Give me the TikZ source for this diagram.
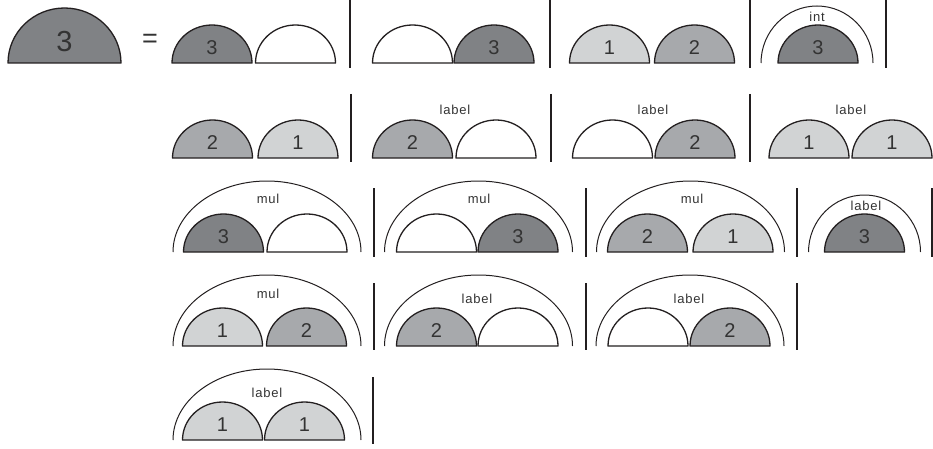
\documentclass[tikz,border=0pt]{standalone}
\usepackage{fontspec}
\setmainfont{Liberation Sans}
\newfontfamily\labfont[LetterSpace=6]{Liberation Sans}
\definecolor{cthree}{HTML}{808285}
\definecolor{ctwo}{HTML}{A7A9AC}
\definecolor{cone}{HTML}{D1D3D4}
\definecolor{ink}{HTML}{231F20}
\definecolor{txt}{HTML}{333333}
\tikzset{
  semiline/.style={draw=ink,line width=1.3pt,line join=round},
  outline/.style={draw=ink,line width=1pt},
  sepline/.style={draw=ink,line width=1.4pt},
  num/.style={inner sep=0pt,text=txt,font=\fontsize{20}{20}\selectfont},
  lab/.style={inner sep=0pt,text=txt,font=\labfont\fontsize{13}{13}\selectfont},
  pics/semi/.style 2 args={code={
    \draw[semiline,fill=#1] (-40pt,0pt) arc[start angle=180,end angle=0,x radius=40pt,y radius=38pt] -- cycle;
    \node[num] (-t) at (0pt,15pt) {#2};
  }},
  pics/outerbig/.style={code={
    \draw[outline] (-94pt,0pt) arc[start angle=180,end angle=0,x radius=94pt,y radius=71pt];
  }},
  pics/outersmall/.style={code={
    \draw[outline] (-56pt,0pt) arc[start angle=180,end angle=0,x radius=56pt,y radius=57pt];
  }},
}
\begin{document}
\begin{tikzpicture}[x=1pt,y=1pt]
\useasboundingbox (0,0) rectangle (933,448);
% ---------- row 1 ----------
\draw[semiline,fill=cthree] (8,385) arc[start angle=180,end angle=0,x radius=56.5pt,y radius=55pt] -- cycle;
\node[num,font=\fontsize{29}{29}\selectfont] (big) at (64.5,406) {3};
\node[num,font=\fontsize{27}{27}\selectfont] (eq) at (150,407) {=};
\pic (r1a) at (212,385) {semi={cthree}{3}};
\pic (r1b) at (295.5,385) {semi={white}{}};
\draw[sepline] (350,448) -- (350,380);
\pic (r1c) at (412.5,385) {semi={white}{}};
\pic (r1d) at (494,385) {semi={cthree}{3}};
\draw[sepline] (550,448) -- (550,380);
\pic (r1e) at (609.5,385) {semi={cone}{1}};
\pic (r1f) at (694.5,385) {semi={ctwo}{2}};
\draw[sepline] (750,448) -- (750,380);
\pic (r1g) at (817,385) {outersmall};
\node[lab] (r1gl) at (817,431) {int};
\pic (r1h) at (818,385) {semi={cthree}{3}};
\draw[sepline] (886,448) -- (886,380);
% ---------- row 2 ----------
\pic (r2a) at (212.5,290) {semi={ctwo}{2}};
\pic (r2b) at (298,290) {semi={cone}{1}};
\draw[sepline] (351,354) -- (351,286);
\node[lab] (r2cl) at (455,338) {label};
\pic (r2c) at (412.5,290) {semi={ctwo}{2}};
\pic (r2d) at (496,290) {semi={white}{}};
\draw[sepline] (551,354) -- (551,286);
\node[lab] (r2el) at (653,338) {label};
\pic (r2e) at (612.5,290) {semi={white}{}};
\pic (r2f) at (695,290) {semi={ctwo}{2}};
\draw[sepline] (750,354) -- (750,286);
\node[lab] (r2gl) at (851,338) {label};
\pic (r2g) at (809,290) {semi={cone}{1}};
\pic (r2h) at (892,290) {semi={cone}{1}};
% ---------- row 3 ----------
\pic (r3a) at (267,196) {outerbig};
\node[lab] (r3al) at (268,249) {mul};
\pic (r3b) at (223.5,196) {semi={cthree}{3}};
\pic (r3c) at (307,196) {semi={white}{}};
\draw[sepline] (374,260) -- (374,191);
\pic (r3d) at (478.5,196) {outerbig};
\node[lab] (r3dl) at (479,249) {mul};
\pic (r3e) at (436.5,196) {semi={white}{}};
\pic (r3f) at (518,196) {semi={cthree}{3}};
\draw[sepline] (586,260) -- (586,191);
\pic (r3g) at (690.5,196) {outerbig};
\node[lab] (r3gl) at (692,249) {mul};
\pic (r3h) at (647.5,196) {semi={ctwo}{2}};
\pic (r3i) at (733,196) {semi={cone}{1}};
\draw[sepline] (797,260) -- (797,191);
\pic (r3j) at (864.5,196) {outersmall};
\node[lab] (r3jl) at (866,242) {label};
\pic (r3k) at (864.5,196) {semi={cthree}{3}};
\draw[sepline] (932,260) -- (932,191);
% ---------- row 4 ----------
\pic (r4a) at (267,102) {outerbig};
\node[lab] (r4al) at (268,154) {mul};
\pic (r4b) at (222.5,102) {semi={cone}{1}};
\pic (r4c) at (306.5,102) {semi={ctwo}{2}};
\draw[sepline] (374,165) -- (374,98);
\pic (r4d) at (478.5,102) {outerbig};
\node[lab] (r4dl) at (477,149) {label};
\pic (r4e) at (436.5,102) {semi={ctwo}{2}};
\pic (r4f) at (518,102) {semi={white}{}};
\draw[sepline] (586,165) -- (586,98);
\pic (r4g) at (690,102) {outerbig};
\node[lab] (r4gl) at (689,149) {label};
\pic (r4h) at (648,102) {semi={white}{}};
\pic (r4i) at (730,102) {semi={ctwo}{2}};
\draw[sepline] (797,165) -- (797,98);
% ---------- row 5 ----------
\pic (r5a) at (267,8) {outerbig};
\node[lab] (r5al) at (267,55) {label};
\pic (r5b) at (222.5,8) {semi={cone}{1}};
\pic (r5c) at (304.5,8) {semi={cone}{1}};
\draw[sepline] (373,71) -- (373,4);
\end{tikzpicture}
\end{document}
